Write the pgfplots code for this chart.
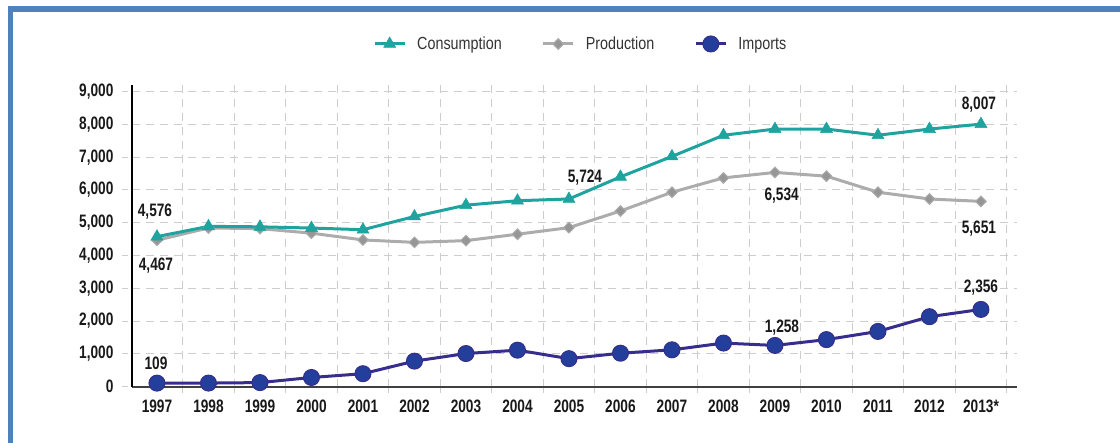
\documentclass[border=0pt]{standalone}
\usepackage{pgfplots}
\pgfplotsset{compat=1.18}
\usepackage{fontspec}
\setmainfont{Liberation Sans}
\newfontfamily\tickfont{Liberation Sans}[FakeStretch=0.76]
\newfontfamily\legfont{Liberation Sans}[FakeStretch=0.82]
\definecolor{bordercol}{RGB}{79,129,189}
\definecolor{teal1}{RGB}{31,163,158}
\definecolor{gray1}{RGB}{172,172,172}
\definecolor{gray2}{RGB}{150,150,150}
\definecolor{navy1}{RGB}{55,45,140}
\definecolor{navy2}{RGB}{35,62,155}
\definecolor{gridc}{RGB}{205,205,205}
\begin{document}
\begin{tikzpicture}
\useasboundingbox (-132pt,-56.3pt) rectangle (988pt,386.7pt);
\draw[line width=5.5pt, bordercol, line join=miter] (-121.7pt,-70pt) -- (-121.7pt,377.9pt) -- (1000pt,377.9pt);
\begin{axis}[
  scale only axis, width=885pt, height=301.7pt,
  xmin=-0.485, xmax=16.7, ymin=0, ymax=9200,
  axis x line=bottom, axis y line=left,
  axis line style={-},
  x axis line style={draw=black!75, line width=2pt},
  y axis line style={draw=black, line width=1.8pt},
  xtick={0,...,16},
  xticklabels={1997,1998,1999,2000,2001,2002,2003,2004,2005,2006,2007,2008,2009,2010,2011,2012,2013*},
  major x tick style={draw=none},
  minor xtick={0.5,1.5,...,16.5},
  xminorgrids=true,
  minor x tick style={draw=gridc, line width=0.9pt, dash pattern=on 8pt off 6pt},
  minor tick length=6pt,
  tick align=outside,
  ytick={0,1000,...,9000},
  yticklabels={0,{1,000},{2,000},{3,000},{4,000},{5,000},{6,000},{7,000},{8,000},{9,000}},
  ymajorgrids=true,
  major y tick style={draw=gridc, line width=0.9pt, dash pattern=on 6pt off 4pt},
  major tick length=10pt,
  grid style={draw=gridc, line width=0.9pt, dash pattern=on 8pt off 6pt},
  ticklabel style={font=\fontsize{18}{20}\selectfont\tickfont\bfseries, text=black!90},
  yticklabel style={xshift=-5pt},
  clip=false,
  legend style={at={(0.507,1.136)}, anchor=center, draw=none, fill=none,
    font=\fontsize{17.5}{20}\selectfont\legfont, text=black!80,
    /tikz/every odd column/.append style={column sep=9pt},
    /tikz/every even column/.append style={column sep=38pt}},
  legend columns=3, reverse legend,
  legend image code/.code={\draw[#1, mark repeat=2, mark phase=2] plot coordinates {(0pt,0pt)(15pt,0pt)(30pt,0pt)};},
]
\addplot[navy1, line width=3pt, mark=*, mark size=8pt, mark options={fill=navy2, draw=navy1, line width=1pt}] coordinates {
(0,109)(1,110)(2,125)(3,281)(4,396)(5,780)(6,1011)(7,1114)(8,855)(9,1021)(10,1124)(11,1330)(12,1258)(13,1436)(14,1685)(15,2135)(16,2356)};
\addlegendentry{Imports}
\addplot[gray1, line width=3pt, mark=square*, mark size=3.8pt, mark options={rotate=45, fill=gray2, draw=gray1, line width=1pt}] coordinates {
(0,4467)(1,4840)(2,4820)(3,4682)(4,4475)(5,4401)(6,4454)(7,4650)(8,4850)(9,5359)(10,5930)(11,6367)(12,6534)(13,6420)(14,5930)(15,5724)(16,5651)};
\addlegendentry{Production}
\addplot[teal1, line width=3pt, mark=triangle*, mark size=7pt, mark options={fill=teal1, draw=teal1, line width=0.5pt}] coordinates {
(0,4576)(1,4890)(2,4875)(3,4838)(4,4787)(5,5190)(6,5536)(7,5671)(8,5724)(9,6398)(10,7022)(11,7668)(12,7856)(13,7856)(14,7668)(15,7856)(16,8007)};
\addlegendentry{Consumption}
\tikzset{lab/.style={font=\fontsize{18}{20}\selectfont\tickfont\bfseries, text=black!90, inner sep=0pt}}
\node[lab, xshift=-2pt, yshift=25pt] at (axis cs:0,4576) {4,576};
\node[lab, xshift=-1pt, yshift=-25pt] at (axis cs:0,4467) {4,467};
\node[lab, xshift=-1pt, yshift=20pt] at (axis cs:0,109) {109};
\node[lab, xshift=16pt, yshift=21.6pt] at (axis cs:8,5724) {5,724};
\node[lab, xshift=6.7pt, yshift=-23.3pt] at (axis cs:12,6534) {6,534};
\node[lab, xshift=-2pt, yshift=20pt] at (axis cs:16,8007) {8,007};
\node[lab, xshift=-2pt, yshift=-27pt] at (axis cs:16,5651) {5,651};
\node[lab, xshift=7pt, yshift=18pt] at (axis cs:12,1258) {1,258};
\node[lab, yshift=21.7pt] at (axis cs:16,2356) {2,356};
\end{axis}
\end{tikzpicture}
\end{document}
